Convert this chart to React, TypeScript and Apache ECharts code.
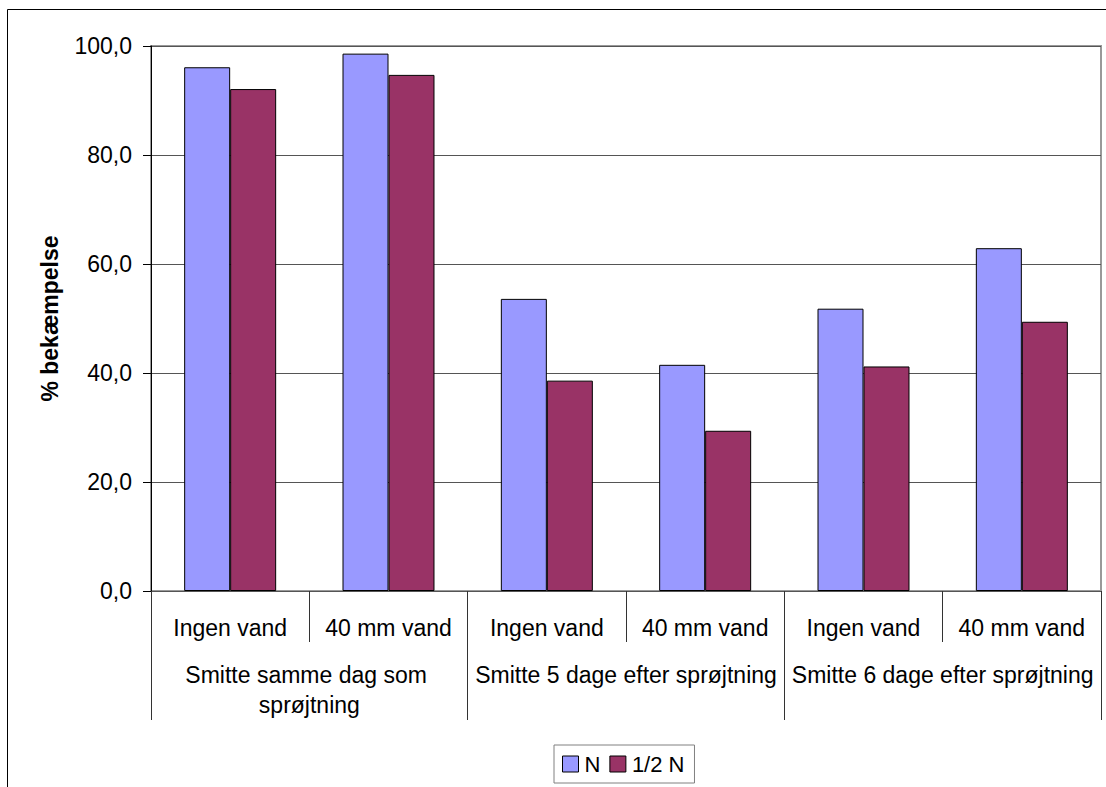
import React, { useEffect, useRef } from "react";
import * as echarts from "echarts";

const categories = ["Ingen vand", "40 mm vand", "Ingen vand", "40 mm vand", "Ingen vand", "40 mm vand"];
const groups = ["Smitte samme dag som sprøjtning", "Smitte 5 dage efter sprøjtning", "Smitte 6 dage efter sprøjtning"];
const seriesNames = ["N", "1/2 N"];
const valuesN = [96.1, 98.6, 53.6, 41.5, 51.8, 62.9];
const valuesHalfN = [92.1, 94.7, 38.6, 29.4, 41.2, 49.4];
const yAxisTitle = "% bekæmpelse";

const FONT = "'Liberation Sans', Arial, sans-serif";

export default function App() {
  const ref = useRef<HTMLDivElement>(null);
  useEffect(() => {
    if (!ref.current) return;
    const chart = echarts.init(ref.current, undefined, { renderer: "svg" });
    chart.setOption({
      animation: false,
      backgroundColor: "#ffffff",
      textStyle: { fontFamily: FONT },
      grid: { left: 151, top: 46, width: 950, height: 545, show: true, borderColor: "#999999", borderWidth: 2, backgroundColor: "transparent" },
      legend: {
        left: 554,
        top: 745,
        orient: "horizontal",
        data: seriesNames,
        itemWidth: 16,
        itemHeight: 16,
        itemGap: 9,
        padding: [8, 10, 8, 8],
        borderColor: "#808080",
        borderWidth: 1,
        backgroundColor: "#ffffff",
        icon: "rect",
        itemStyle: { borderColor: "#000000", borderWidth: 1 },
        textStyle: { fontFamily: FONT, fontSize: 22, color: "#000000", padding: [0, 0, 0, 1] },
      },
      xAxis: [
        {
          type: "category",
          data: categories,
          position: "bottom",
          axisLine: { show: true, lineStyle: { color: "#555555", width: 1 } },
          axisTick: { show: true, interval: 0, length: 51, lineStyle: { color: "#333333" } },
          axisLabel: { interval: 0, margin: 25, fontSize: 23, color: "#000000", fontFamily: FONT },
          splitLine: { show: false },
        },
        {
          type: "category",
          data: groups,
          position: "bottom",
          axisLine: { show: false },
          axisTick: { show: true, interval: 0, length: 129, lineStyle: { color: "#333333" } },
          axisLabel: {
            interval: 0,
            margin: 69,
            fontSize: 23,
            lineHeight: 30,
            width: 312,
            overflow: "break",
            color: "#000000",
            fontFamily: FONT,
          },
          splitLine: { show: false },
        },
      ],
      yAxis: {
        type: "value",
        min: 0,
        max: 100,
        interval: 20,
        name: yAxisTitle,
        nameLocation: "middle",
        nameGap: 90,
        nameRotate: 90,
        nameTextStyle: { fontFamily: FONT, fontSize: 23, fontWeight: "bold", color: "#000000" },
        axisLine: { show: true, lineStyle: { color: "#000000", width: 1 } },
        axisTick: { show: true, length: 8, lineStyle: { color: "#000000" } },
        axisLabel: {
          margin: 19,
          fontSize: 23,
          color: "#000000",
          fontFamily: FONT,
          formatter: (v: number) => v.toFixed(1).replace(".", ","),
        },
        splitLine: { show: true, lineStyle: { color: "#555555", width: 1 } },
      },
      series: [
        {
          name: seriesNames[0],
          type: "bar",
          data: valuesN,
          barGap: "0%",
          barCategoryGap: "41.9%",
          itemStyle: { color: "#9999FF", borderColor: "#000000", borderWidth: 1 },
        },
        {
          name: seriesNames[1],
          type: "bar",
          data: valuesHalfN,
          barGap: "0%",
          barCategoryGap: "41.9%",
          itemStyle: { color: "#993366", borderColor: "#000000", borderWidth: 1 },
        },
      ],
      graphic: [
        {
          type: "rect",
          silent: true,
          shape: { x: 7.5, y: 9.5, width: 1200, height: 1000 },
          style: { fill: "none", stroke: "#000000", lineWidth: 1 },
        },
      ],
    });
    return () => chart.dispose();
  }, []);
  return (
    <div
      ref={ref}
      style={{ position: "fixed", left: 0, top: 0, width: 1106, height: 787, background: "#ffffff" }}
    />
  );
}
